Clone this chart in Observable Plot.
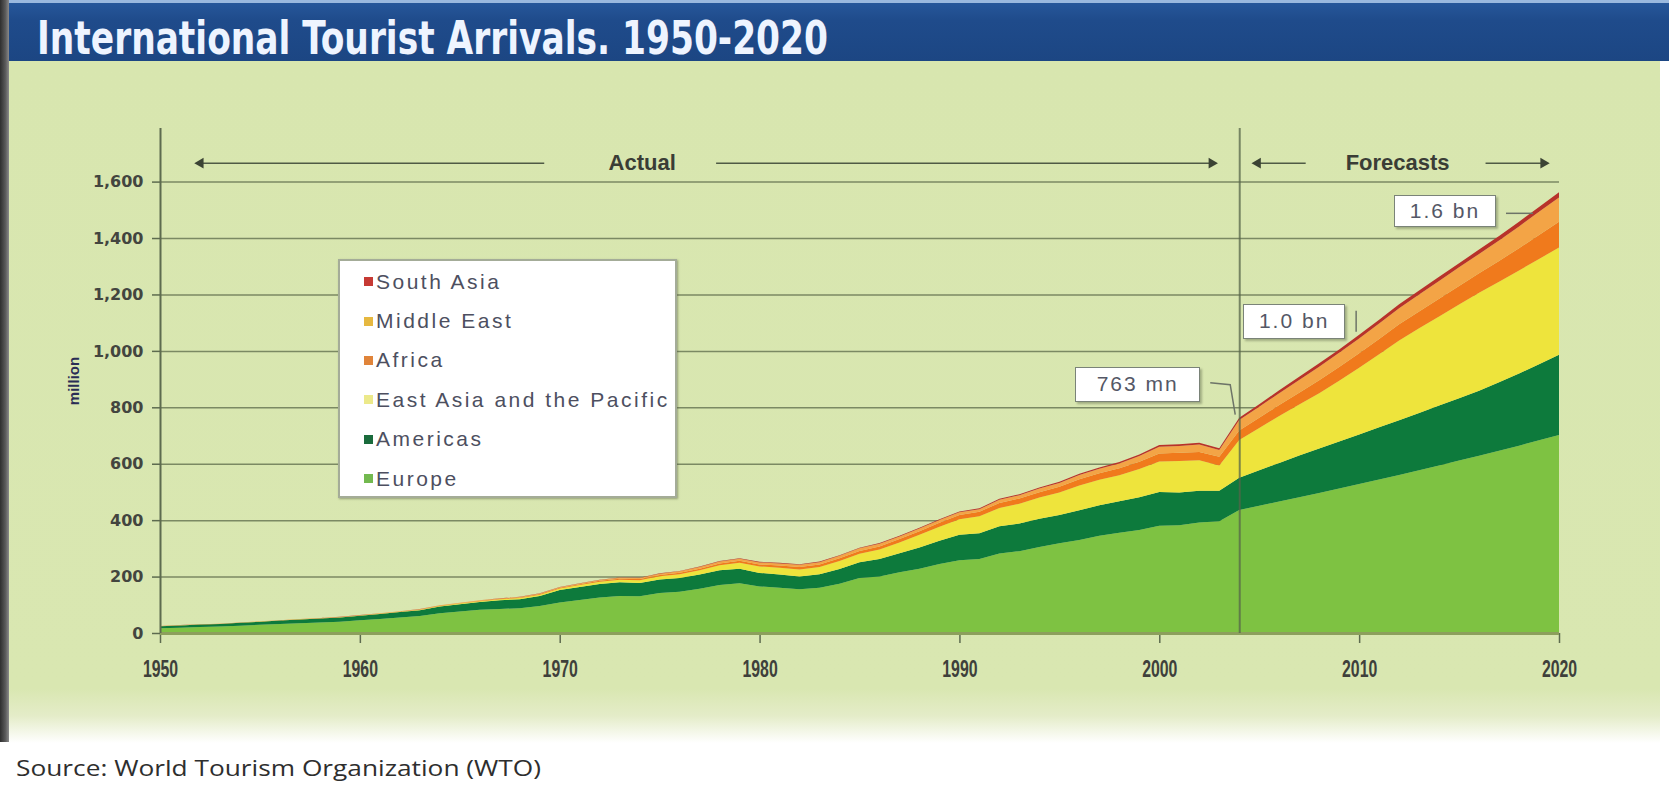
<!DOCTYPE html>
<html>
<head>
<meta charset="utf-8">
<script src="https://cdn.jsdelivr.net/npm/d3@7"></script>
<script src="https://cdn.jsdelivr.net/npm/@observablehq/plot@0.6"></script>
<style>
html,body{margin:0;padding:0;}
body{width:1669px;height:793px;position:relative;overflow:hidden;background:#fff;font-family:"Liberation Sans",Arial,sans-serif;}
#edge{position:absolute;left:0;top:0;width:9px;height:742px;background:linear-gradient(90deg,#2e2e2e,#5a5a5a 60%,#8a8a8a);}
#titlebar{position:absolute;left:9px;top:0;width:1660px;height:61px;box-sizing:border-box;border-top:3px solid #9ab9de;background:linear-gradient(#26579a,#1f4b8b 30%,#1c4683);}
#title{position:absolute;left:28px;top:12px;font-size:46px;line-height:46px;font-weight:bold;color:#eef4ff;white-space:nowrap;transform-origin:0 50%;font-family:"Liberation Sans Narrow","DejaVu Sans Condensed","Liberation Sans",Arial,sans-serif;}
#panel{position:absolute;left:9px;top:61px;width:1651px;height:682px;background:linear-gradient(#d8e6af 0,#d9e7b1 92%,#e4ecc8 96%,#ffffff 100%);}
#chart{position:absolute;left:0;top:62px;}
#source{position:absolute;left:16px;top:756px;font-family:"Open Sans","Liberation Sans",sans-serif;font-size:22px;line-height:22px;color:#2e2e2e;white-space:nowrap;transform-origin:0 50%;}
#legend{position:absolute;left:338px;top:259px;width:339px;height:239px;box-sizing:border-box;background:#fff;border:2px solid #a4ac98;box-shadow:1px 1px 2px rgba(80,90,60,.5);padding-top:1px;}
.li{height:39.4px;display:flex;align-items:center;font-size:21px;letter-spacing:2.5px;color:#4d4f60;}
.sw{width:9px;height:9px;margin-left:24px;margin-right:3px;flex:none;}
.ann{position:absolute;box-sizing:border-box;background:#fff;border:1.5px solid #7a8378;box-shadow:2px 2px 2px rgba(60,70,50,.35);display:flex;align-items:center;justify-content:center;font-size:21px;letter-spacing:2px;color:#545766;}
#leaders{position:absolute;left:0;top:0;pointer-events:none;}
g[aria-label="y-axis tick label"]{font-family:"DejaVu Sans",sans-serif;font-size:16px;font-weight:bold;fill:#43453f;}
g[aria-label="x-axis tick label"]{font-family:"Liberation Sans",Arial,sans-serif;font-size:24px;font-weight:bold;fill:#3e403b;}
g[aria-label="y-axis tick"],g[aria-label="x-axis tick"]{stroke:#5d6b4f;stroke-width:1.5px;}
g[aria-label="y-axis label"]{font-family:"Liberation Sans",Arial,sans-serif;font-size:15px;font-weight:bold;fill:#2a2d55;}
g[aria-label="phase-label"]{letter-spacing:2px;}
</style>
</head>
<body>
<div id="edge"></div>
<div id="titlebar"><div id="title">International Tourist Arrivals. 1950-2020</div></div>
<div id="panel"></div>
<div id="chart"></div>
<div id="legend"></div>
<div id="source">Source: World Tourism Organization (WTO)</div>
<script>
// ---------------- DATA (million arrivals) ----------------
const years = [
  1950,1951,1952,1953,1954,1955,1956,1957,1958,1959,
  1960,1961,1962,1963,1964,1965,1966,1967,1968,1969,
  1970,1971,1972,1973,1974,1975,1976,1977,1978,1979,
  1980,1981,1982,1983,1984,1985,1986,1987,1988,1989,
  1990,1991,1992,1993,1994,1995,1996,1997,1998,1999,
  2000,2001,2002,2003,2004,2005,2006,2007,2008,2009,
  2010,2011,2012,2013,2014,2015,2016,2017,2018,2019,2020];

const europe = [
  17,19,21,23,26,29,32,35,37,40,
  45,50,55,60,70,76,82,85,88,96,
  108,117,126,131,130,142,146,157,170,176,
  165,160,155,160,175,195,200,215,228,245,
  258,262,282,290,305,318,330,345,355,365,
  380,382,392,396,436,451,466,481,496,512,
  528,544,560,577,594,611,628,646,664,683,702];

const americas = [
  7,8,9,9,10,11,12,13,14,15,
  16,17,19,21,24,26,28,31,32,35,
  44,46,48,49,47,48,49,50,52,52,
  48,47,45,48,52,56,62,68,75,82,
  90,92,96,98,100,100,105,108,112,116,
  120,116,112,108,114,126,137,148,158,167,
  176,185,194,203,212,221,231,243,256,270,284];

const eastAsiaPacific = [
  0.2,0.2,0.3,0.3,0.4,0.4,0.5,0.6,0.7,0.8,
  0.9,1.1,1.3,1.6,2.0,2.4,2.9,3.4,4.0,5.0,
  6,7,8,9,10,11,13,15,18,21,
  23,24,25,26,28,30,34,38,45,50,
  55,60,65,70,75,80,88,90,92,100,
  108,112,108,90,134,150,166,181,196,215,
  236,259,283,300,316,332,347,356,365,373,380];

const africa = [
  0.5,0.5,0.5,0.5,0.6,0.6,0.6,0.7,0.7,0.7,
  0.8,0.9,1.0,1.1,1.2,1.4,1.6,1.8,2.0,2.2,
  2.4,2.8,3.2,3.6,4.0,4.7,5.4,6.0,6.6,7.0,
  7.2,8,8.5,9,10,10,11,12,13,14,
  15,16,18,18.5,19,20,22,23,25,26,
  28,29,30,31,34,36,39,42,46,49,
  52,54,57,60,63,66,69,74,79,85,92];

const middleEast = [
  0.2,0.2,0.2,0.3,0.3,0.3,0.4,0.4,0.5,0.5,
  0.6,0.7,0.8,0.9,1.0,1.1,1.2,1.3,1.5,1.7,
  1.9,2.3,2.8,3.3,3.8,4.5,5.2,6.0,6.6,7.0,
  7.1,7.5,8,8,8.5,9,9,9,9.5,9.5,
  9.6,9,11,12,13,13.7,15,16,17,20,
  24,24,26,24,37,39,42,45,48,50,
  52,55,57,60,63,66,68,72,77,82,86];

const southAsia = [
  0.04,0.05,0.06,0.07,0.08,0.09,0.1,0.12,0.15,0.18,
  0.2,0.25,0.3,0.35,0.4,0.45,0.5,0.6,0.7,0.8,
  0.9,1.0,1.1,1.2,1.3,1.4,1.6,1.8,2.0,2.1,
  2.2,2.3,2.4,2.5,2.5,2.6,2.8,2.9,3.0,3.1,
  3.2,3.2,3.5,3.7,4.0,4.2,4.5,4.8,5.2,5.6,
  6.1,5.8,6.0,6.0,8,9,10,11,12,12,
  13,13,14,14,15,15,16,16,17,17,18];

const regions = ["Europe","Americas","East Asia and the Pacific","Africa","Middle East","South Asia"];
const regionSeries = [europe, americas, eastAsiaPacific, africa, middleEast, southAsia];
const regionColors = ["#7ec242","#0d7a3c","#eee43c","#f07a1c","#f3a446","#b8322a"];
const legendColors = ["#73b94f","#1a6b3c","#ece98a","#e0843a","#e6b840","#c63a34"];

const yTicks = [0,200,400,600,800,1000,1200,1400,1600];
const xTicks = [1950,1960,1970,1980,1990,2000,2010,2020];
const yTop = 1790;
const splitYear = 2004;

const phaseLabels = ["Actual","Forecasts"];
const annotationLabels = ["763 mn","1.0 bn","1.6 bn"];
const annotationYears = [2004, 2010, 2020];

// ---------------- tables built from the arrays ----------------
const rows = [];
regions.forEach((r, k) => years.forEach((yr, i) => rows.push({year: yr, region: r, value: regionSeries[k][i]})));

// layout of the phase arrows (in data units)
const phaseY = 1667;
const phaseSpec = [
  {from: 1952, to: 2002.6, gap: [1969.2, 1977.8], text: 1974.1},
  {from: 2004.9, to: 2019.2, gap: [2007.3, 2016.3], text: 2011.9}
];
const segs = [], heads = [], labels = [];
phaseSpec.forEach((p, i) => {
  segs.push({x1: p.from, x2: p.gap[0]}, {x1: p.gap[1], x2: p.to});
  heads.push({x: p.from, rot: -90}, {x: p.to, rot: 90});
  labels.push({x: p.text, label: phaseLabels[i]});
});

const W = 1669, H = 673;
const plot = Plot.plot({
  width: W, height: H,
  marginLeft: 160, marginRight: 110, marginTop: 66, marginBottom: 102,
  style: {background: "transparent", overflow: "visible"},
  x: {type: "linear", domain: [1950, 2020], ticks: xTicks, tickFormat: d => String(d), tickSize: 10, tickPadding: 16, label: null},
  y: {domain: [0, yTop], ticks: yTicks, tickFormat: d3.format(","), tickSize: 8, tickPadding: 9,
      label: "million", labelAnchor: "center", labelOffset: 92, labelArrow: "none"},
  color: {domain: regions, range: regionColors},
  marks: [
    Plot.ruleY(yTicks.filter(v => v > 0), {stroke: "#7b8963", strokeWidth: 1.5}),
    Plot.areaY(rows, Plot.stackY({x: "year", y: "value", fill: "region", order: regions, curve: "linear"})),
    Plot.ruleY([0], {stroke: "#8c9f5c", strokeWidth: 3}),
    Plot.ruleX([1950], {y1: 0, y2: yTop, stroke: "#5d6b4f", strokeWidth: 2}),
    Plot.ruleX([splitYear], {y1: 0, y2: yTop, stroke: "#55644a", strokeWidth: 2, strokeOpacity: 0.75}),
    Plot.link(segs, {x1: "x1", x2: "x2", y1: phaseY, y2: phaseY, stroke: "#4f5a45", strokeWidth: 1.5}),
    Plot.dot(heads, {x: "x", y: phaseY, symbol: "triangle", r: 4, fill: "#3b4334", stroke: null, rotate: "rot"}),
    Plot.text(labels, {x: "x", y: phaseY, text: "label", fontSize: 22, fontWeight: "bold", fill: "#3a3d36",
      fontFamily: "Liberation Sans, Arial, sans-serif", ariaLabel: "phase-label"})
  ]
});
document.getElementById("chart").appendChild(plot);

// condense x tick labels
plot.querySelectorAll('g[aria-label="x-axis tick label"] text').forEach(t => {
  const tr = t.getAttribute("transform") || "";
  t.setAttribute("transform", tr + " scale(0.66,1)");
});

// legend (top to bottom: reverse stack order)
const legend = document.getElementById("legend");
regions.map((r, k) => ({r, c: legendColors[k]})).reverse().forEach(({r, c}) => {
  const d = document.createElement("div");
  d.className = "li";
  d.innerHTML = `<span class="sw" style="background:${c}"></span><span>${r}</span>`;
  legend.appendChild(d);
});

// annotations anchored on the stack top via the plot's scales
const xs = plot.scale("x"), ys = plot.scale("y");
const chartTop = 62;
const totalAt = yr => regionSeries.reduce((s, arr) => s + arr[years.indexOf(yr)], 0);
const annLayout = [
  {box: [-164, -51, 125, 35], path: [[-29,-35],[-9,-33],[-4,-3]]},
  {box: [-116, -31, 102, 35], path: [[-3,-3],[-3,-24]]},
  {box: [-165, 3, 102, 32], path: [[-53,21],[-26,21]]}
];
const NS = "http://www.w3.org/2000/svg";
const lsvg = document.createElementNS(NS, "svg");
lsvg.setAttribute("id", "leaders");
lsvg.setAttribute("width", W); lsvg.setAttribute("height", 793);
document.body.appendChild(lsvg);
annotationLabels.forEach((lab, i) => {
  const ax = xs.apply(annotationYears[i]);
  const ay = chartTop + ys.apply(totalAt(annotationYears[i]));
  const L = annLayout[i];
  const div = document.createElement("div");
  div.className = "ann";
  div.textContent = lab;
  div.style.left = (ax + L.box[0]) + "px";
  div.style.top = (ay + L.box[1]) + "px";
  div.style.width = L.box[2] + "px";
  div.style.height = L.box[3] + "px";
  document.body.appendChild(div);
  const p = document.createElementNS(NS, "path");
  p.setAttribute("d", L.path.map((q, j) => (j ? "L" : "M") + (ax + q[0]) + "," + (ay + q[1])).join(""));
  p.setAttribute("fill", "none");
  p.setAttribute("stroke", "#6d7468");
  p.setAttribute("stroke-width", "1.5");
  lsvg.appendChild(p);
});

// fit title and source widths
function fit(id, target) {
  const el = document.getElementById(id);
  const w = el.getBoundingClientRect().width;
  if (w > 0) el.style.transform = `scaleX(${target / w})`;
}
fit("title", 791);
fit("source", 525);
</script>
</body>
</html>
